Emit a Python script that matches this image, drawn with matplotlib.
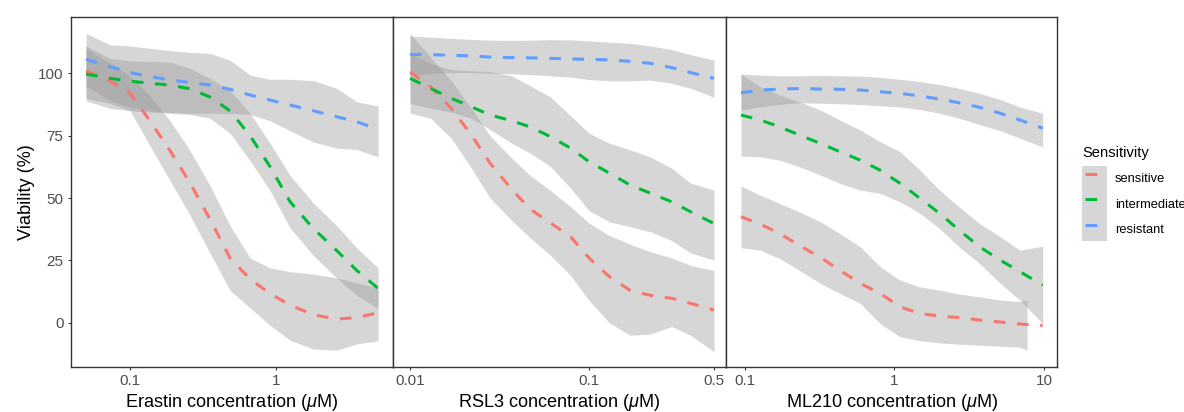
import matplotlib.pyplot as plt
from matplotlib.lines import Line2D
from matplotlib.patches import Patch
from matplotlib.ticker import NullLocator
import numpy as np

plt.rcParams["font.family"] = ["Liberation Sans", "DejaVu Sans"]
plt.rcParams["mathtext.fontset"] = "custom"
plt.rcParams["mathtext.it"] = "Liberation Sans:italic"
plt.rcParams["mathtext.rm"] = "Liberation Sans"

# --- smoothed viability fits (fit, lower CI, upper CI) ---
groups = ["sensitive", "intermediate", "resistant"]

# Erastin
erastin_x = [0.05, 0.073, 0.1, 0.137, 0.188, 0.258, 0.353, 0.484, 0.664, 0.91, 1.25, 1.8, 2.6, 3.57, 5.0]
erastin_sens = [101, 97, 92, 81, 69, 56, 41.5, 26, 17.5, 11.7, 7.1, 3.2, 1.5, 2.1, 4.0]
erastin_sens_lo = [90, 88, 85, 71, 57, 43, 28, 13, 6, -1, -7, -10.5, -11, -8.5, -7.2]
erastin_sens_hi = [110, 104, 99, 91, 81, 69, 55, 39, 26, 22, 20.5, 19.5, 18, 16, 14]
erastin_int = [99.7, 98, 96.9, 96, 95.3, 93.8, 90.5, 85, 75, 62.6, 48.5, 37.8, 29, 21, 13.8]
erastin_int_lo = [89, 86, 85, 84.5, 84, 83.5, 82, 76, 65, 53, 38, 27, 18, 11, 5.7]
erastin_int_hi = [111, 106, 105, 104.7, 104.5, 102, 98, 93, 84, 72, 59, 48, 39, 30, 22]
erastin_res = [105.6, 102.7, 100.3, 98.7, 97.3, 96.3, 95.3, 93.6, 91.3, 89.3, 87.3, 85, 82.6, 80.6, 77.5]
erastin_res_lo = [95, 89, 86.5, 85, 84.3, 84, 84, 84, 83.5, 81, 77, 72.5, 70, 69.5, 66.5]
erastin_res_hi = [116, 111.4, 111, 110, 109.1, 108.4, 108, 105.3, 99.3, 97.6, 97.6, 97.1, 94, 88.6, 86.9]

# RSL3
rsl3_x = [0.01, 0.013, 0.017, 0.022, 0.028, 0.037, 0.047, 0.061, 0.079, 0.1, 0.13, 0.17, 0.22, 0.29, 0.37, 0.5]
rsl3_sens = [100.5, 94.7, 86, 75.3, 64, 53.5, 45.5, 40, 34.5, 26, 18.5, 13, 11, 9.8, 7.8, 5.1]
rsl3_sens_lo = [84, 82, 74, 62, 50, 41, 34, 27, 19, 9, 0, -5, -4.5, -1.5, -5, -11.6]
rsl3_sens_hi = [116, 106.5, 97, 86, 75, 66, 59, 53, 46.5, 40, 35, 31.5, 28.5, 26, 23, 21]
rsl3_int = [98, 94, 90, 86.6, 83.3, 81, 78.5, 74.6, 70, 64.6, 60, 55.2, 52, 48.5, 44.5, 39.8]
rsl3_int_lo = [88, 86, 84.5, 82, 77.5, 72, 68, 62.6, 54, 45, 40.5, 38.5, 36.5, 33, 28, 25.1]
rsl3_int_hi = [108, 104, 101.5, 101, 100.7, 99, 95, 90.5, 83, 76, 72, 69.3, 66.5, 62, 56, 53.2]
rsl3_res = [107.6, 107.5, 107.2, 107, 106.5, 106.3, 106.2, 106, 105.8, 105.6, 105.4, 104.8, 104, 102.3, 100.3, 98]
rsl3_res_lo = [99, 100, 100.3, 100.3, 100, 99.8, 99.5, 99, 98.5, 97.5, 97, 97, 97.3, 96, 94, 90.4]
rsl3_res_hi = [115, 114.5, 114, 113.6, 113.3, 113.2, 113.3, 113.5, 113.4, 113, 112.5, 112, 111, 109.5, 107.5, 105.3]

# ML210 (sensitive band stops short of the last dose)
ml210_x = [0.094, 0.126, 0.17, 0.23, 0.32, 0.43, 0.59, 0.8, 1.09, 1.48, 2.0, 2.7, 3.7, 5.1, 6.9, 9.8]
ml210_sens_band_x = [0.094, 0.126, 0.17, 0.23, 0.32, 0.43, 0.59, 0.8, 1.09, 1.48, 2.0, 2.7, 3.7, 5.1, 6.9, 7.7]
ml210_sens = [42.5, 39.6, 35.8, 31.1, 26.2, 21.1, 15.8, 11.8, 6.4, 3.7, 2.7, 2.1, 1.1, 0.3, -0.5, -1.1]
ml210_sens_lo = [30.1, 29.1, 25.8, 21.1, 15.8, 11.8, 7.8, -0.3, -5.6, -7.2, -8, -8.6, -9, -9.4, -9.8, -11]
ml210_sens_hi = [54.8, 51.2, 47.9, 44.5, 40.5, 35.8, 30.5, 22.5, 17.1, 14.4, 13.1, 11.5, 10.4, 9.1, 8.5, 9.1]
ml210_int = [83.3, 81.3, 78.6, 75.3, 71.9, 68.6, 65.2, 61.2, 55.9, 49.9, 43.9, 37.2, 30.5, 25.1, 20.5, 15.1]
ml210_int_lo = [66.8, 66.6, 65.2, 62.6, 59.2, 55.9, 53.2, 51.9, 48.5, 43.9, 37.8, 30.5, 23.8, 15.8, 9.1, -0.3]
ml210_int_hi = [99.7, 94.7, 91.3, 88.6, 85.3, 81.3, 77.3, 72.6, 68.6, 61.2, 53.2, 46.5, 39.8, 34.5, 29.1, 30.7]
ml210_res = [92.2, 93.3, 93.7, 93.9, 93.7, 93.6, 93.3, 92.6, 92, 90.9, 89.7, 88.2, 86.4, 84, 81.3, 78]
ml210_res_lo = [85.3, 86.5, 87.5, 88.2, 88, 87.8, 87.5, 87, 86.5, 85.5, 84, 82, 79.5, 77, 74, 70.5]
ml210_res_hi = [99.7, 99.3, 99, 99, 99.2, 99, 98.9, 98.4, 97.6, 96.7, 95.5, 94, 92, 89.5, 86.5, 84]

colors = {"sensitive": "#F8766D", "intermediate": "#00BA38", "resistant": "#619CFF"}
band_color = "#999999"

panels = [
    dict(xlabel=r"Erastin concentration ($\mu$M)", xlog=(-1.404, 0.799),
         ticks=[0.1, 1], ticklabels=["0.1", "1"],
         series={
             "sensitive": (erastin_x, erastin_x, erastin_sens, erastin_sens_lo, erastin_sens_hi),
             "intermediate": (erastin_x, erastin_x, erastin_int, erastin_int_lo, erastin_int_hi),
             "resistant": (erastin_x, erastin_x, erastin_res, erastin_res_lo, erastin_res_hi),
         }),
    dict(xlabel=r"RSL3 concentration ($\mu$M)", xlog=(-2.097, -0.234),
         ticks=[0.01, 0.1, 0.5], ticklabels=["0.01", "0.1", "0.5"],
         series={
             "sensitive": (rsl3_x, rsl3_x, rsl3_sens, rsl3_sens_lo, rsl3_sens_hi),
             "intermediate": (rsl3_x, rsl3_x, rsl3_int, rsl3_int_lo, rsl3_int_hi),
             "resistant": (rsl3_x, rsl3_x, rsl3_res, rsl3_res_lo, rsl3_res_hi),
         }),
    dict(xlabel=r"ML210 concentration ($\mu$M)", xlog=(-1.127, 1.089),
         ticks=[0.1, 1, 10], ticklabels=["0.1", "1", "10"],
         series={
             "sensitive": (ml210_x, ml210_sens_band_x, ml210_sens, ml210_sens_lo, ml210_sens_hi),
             "intermediate": (ml210_x, ml210_x, ml210_int, ml210_int_lo, ml210_int_hi),
             "resistant": (ml210_x, ml210_x, ml210_res, ml210_res_lo, ml210_res_hi),
         }),
]

W, H = 1184, 412
fig = plt.figure(figsize=(W / 100, H / 100), dpi=100)

# panel edges in pixels
edges = [(71, 392.7), (392.7, 726), (726, 1057.3)]
top, bottom = 16.7, 366.7

for i, (p, (x0, x1)) in enumerate(zip(panels, edges)):
    ax = fig.add_axes([x0 / W, 1 - bottom / H, (x1 - x0) / W, (bottom - top) / H])
    for g in groups:
        x, bx, fit, lo, hi = p["series"][g]
        ax.fill_between(bx, lo, hi, color=band_color, alpha=0.4, linewidth=0)
        ax.plot(x, fit, color=colors[g], lw=2.2, dashes=(3.8, 3.8))
    ax.set_xscale("log")
    ax.set_xlim(10 ** p["xlog"][0], 10 ** p["xlog"][1])
    ax.set_ylim(-17.6, 122.7)
    ax.set_xticks(p["ticks"])
    ax.set_xticklabels(p["ticklabels"])
    ax.xaxis.set_minor_locator(NullLocator())
    ax.set_yticks([0, 25, 50, 75, 100])
    ax.tick_params(direction="out", length=2.4, width=0.75, color="#333333",
                   labelcolor="#4D4D4D", labelsize=11, pad=3)
    for s in ax.spines.values():
        s.set_color("#333333")
        s.set_linewidth(1.0)
    ax.set_xlabel(p["xlabel"], fontsize=13.1, labelpad=3)
    if i == 0:
        ax.set_ylabel("Viability (%)", fontsize=13.1, labelpad=2.5)
    else:
        ax.tick_params(axis="y", left=False, labelleft=False)

# legend: grey band key with a single dash on top
handles = [
    (Patch(facecolor=band_color, alpha=0.4, edgecolor="none"),
     Line2D([], [], color=colors[g], lw=2.2, linestyle=(6.6, (3.8, 3.8))))
    for g in groups
]
fig.text(1082 / W, 1 - 156.7 / H, "Sensitivity", fontsize=10.6, va="baseline", ha="left")
fig.legend(handles, groups, loc="upper left",
           bbox_to_anchor=(1082 / W, 1 - 166 / H), frameon=False,
           fontsize=9.3, handlelength=1.94, handleheight=2.62,
           labelspacing=0, handletextpad=0.62, borderpad=0, borderaxespad=0)

fig.savefig("out.png", dpi=100)
